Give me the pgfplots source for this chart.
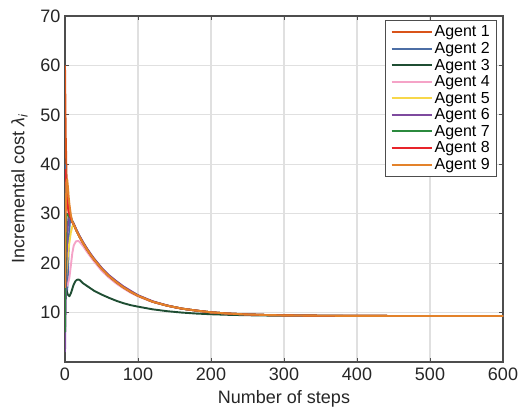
\documentclass[border=0pt]{standalone}
\usepackage{pgfplots}
\pgfplotsset{compat=1.18}
\usepackage{fontspec}
\setmainfont{Liberation Sans}
\definecolor{agentone}{HTML}{D95319}
\definecolor{agenttwo}{HTML}{4C6EA5}
\definecolor{agentthree}{HTML}{1F4E33}
\definecolor{agentfour}{HTML}{F5A3C7}
\definecolor{agentfive}{HTML}{F7D74A}
\definecolor{agentsix}{HTML}{7E4A9E}
\definecolor{agentseven}{HTML}{2B8A3E}
\definecolor{agenteight}{HTML}{E8242A}
\definecolor{agentnine}{HTML}{E3822A}
\definecolor{axgray}{HTML}{4D4D4D}
\definecolor{gridgray}{HTML}{E0E0E0}
\begin{document}
\begin{tikzpicture}
\path[use as bounding box] (-65pt,-48pt) rectangle (456pt,362pt);
\begin{axis}[
  at={(0pt,0pt)}, anchor=south west,
  scale only axis, width=438pt, height=346pt,
  xmin=0, xmax=600, ymin=0, ymax=70,
  xtick={0,100,...,600}, ytick={10,20,...,70},
  grid=major, major grid style={gridgray, line width=1.2pt},
  axis line style={axgray, line width=1.1pt},
  tick style={axgray, line width=1pt}, tick align=inside,
  major tick length=4pt,
  tick label style={font=\fontsize{18}{20}\selectfont, text=black!85},
  /pgf/number format/assume math mode=true,
  xticklabel style={yshift=-2pt}, yticklabel style={xshift=-1pt},
  xlabel={Number of steps},
  ylabel={Incremental cost {\itshape λ}\textsubscript{\itshape i}},
  label style={font=\fontsize{18}{20}\selectfont, text=black!85},
  xlabel style={yshift=-3pt},
  ylabel style={yshift=6pt},
  legend style={at={(0.987,0.988)}, anchor=north east, draw=axgray, line width=1.1pt,
    font=\fontsize{16}{16.5}\selectfont, row sep=0pt, inner xsep=5pt, inner ysep=3pt,
    cells={anchor=west}},
  legend image code/.code={\draw[#1, line width=2pt] (0pt,0pt) -- (40pt,0pt);},
  every axis plot/.append style={line width=1.9pt, line join=round},
]
\addplot[agentone] coordinates {(0,60)(1,46)(2,38.5)(3,34)(4,31.5)(5,30.2)(6,29.7)(8,29.1)(10,28.3)(12,27.8)(15,26.8)(20,25.3)(25,24.0)(30,22.8)(35,21.7)(40,20.7)(50,18.9)(60,17.4)(70,16.2)(80,15.1)(90,14.2)(100,13.4)(110,12.8)(120,12.2)(130,11.8)(140,11.4)(150,11.1)(160,10.8)(180,10.4)(200,10.05)(225,9.79)(250,9.62)(275,9.51)(300,9.44)(350,9.36)(400,9.33)(500,9.3)(600,9.3)};
\addlegendentry{Agent 1}
\addplot[agenttwo] coordinates {(0,40)(1,27)(2,17)(3,14.5)(4,18)(5,23)(6,27)(7,28.8)(8,29.2)(10,28.5)(12,27.9)(15,26.9)(20,25.4)(25,24.1)(30,22.9)(35,21.8)(40,20.8)(50,19.0)(60,17.5)(70,16.3)(80,15.2)(90,14.3)(100,13.5)(110,12.8)(120,12.2)(130,11.8)(140,11.4)(150,11.1)(160,10.8)(180,10.4)(200,10.05)(225,9.79)(250,9.62)(275,9.51)(300,9.44)(350,9.36)(400,9.33)(500,9.3)(600,9.3)};
\addlegendentry{Agent 2}
\addplot[agentthree] coordinates {(0,15)(2,14.5)(4,13.6)(6,13.3)(8,13.9)(10,14.8)(12,15.7)(14,16.3)(16,16.6)(18,16.7)(20,16.6)(25,15.9)(30,15.4)(40,14.4)(50,13.65)(60,13.0)(70,12.4)(80,11.9)(90,11.5)(100,11.2)(120,10.66)(140,10.28)(160,10.0)(180,9.8)(200,9.66)(225,9.54)(250,9.46)(275,9.40)(300,9.37)(350,9.33)(400,9.31)(600,9.3)};
\addlegendentry{Agent 3}
\addplot[agentfour] coordinates {(0,15)(2,15.3)(4,15.8)(6,17)(8,19.5)(10,22)(12,23.6)(15,24.4)(18,24.5)(20,24.3)(25,23.4)(30,22.3)(35,21.3)(40,20.3)(50,18.5)(60,17.1)(70,15.9)(80,14.9)(90,14.0)(100,13.3)(110,12.7)(120,12.15)(130,11.75)(140,11.37)(150,11.07)(160,10.8)(180,10.4)(200,10.05)(225,9.79)(250,9.62)(275,9.51)(300,9.44)(350,9.36)(400,9.33)(500,9.3)(600,9.3)};
\addlegendentry{Agent 4}
\addplot[agentfive] coordinates {(0,15)(1,16.5)(2,18)(4,21.5)(6,24.2)(8,26.2)(10,27.4)(12,27.8)(15,26.8)(20,25.3)(25,24.0)(30,22.8)(35,21.7)(40,20.7)(50,18.9)(60,17.4)(70,16.2)(80,15.1)(90,14.2)(100,13.4)(110,12.8)(120,12.2)(130,11.8)(140,11.4)(150,11.1)(160,10.8)(180,10.4)(200,10.05)(225,9.79)(250,9.62)(275,9.51)(300,9.44)(350,9.36)(400,9.33)(500,9.3)(600,9.3)};
\addlegendentry{Agent 5}
\addplot[agentsix] coordinates {(0,2)(1,12)(2,20)(3,25)(4,28)(5,29.3)(6,29.7)(8,29.3)(10,28.5)(12,28.0)(15,27.0)(20,25.5)(25,24.2)(30,23.0)(35,21.9)(40,20.9)(50,19.1)(60,17.6)(70,16.4)(80,15.3)(90,14.4)(100,13.5)(110,12.9)(120,12.3)(130,11.85)(140,11.45)(150,11.1)(160,10.8)(180,10.4)(200,10.05)(225,9.79)(250,9.62)(275,9.51)(300,9.44)(350,9.36)(400,9.33)(500,9.3)(600,9.3)};
\addlegendentry{Agent 6}
\addplot[agentseven] coordinates {(0,6)(1,22)(2,29.5)(3,29.8)(4,29.8)(5,29.6)(6,29.4)(8,29.0)(10,28.4)(12,27.8)(15,26.8)(20,25.3)(25,24.0)(30,22.8)(35,21.7)(40,20.7)(50,18.9)(60,17.4)(70,16.2)(80,15.1)(90,14.2)(100,13.4)(110,12.8)(120,12.2)(130,11.8)(140,11.4)(150,11.1)(160,10.8)(180,10.4)(200,10.05)(225,9.79)(250,9.62)(275,9.51)(300,9.44)(350,9.36)(400,9.33)(500,9.3)(600,9.3)};
\addlegendentry{Agent 7}
\addplot[agenteight] coordinates {(0,39)(1,37)(2,35)(3,33)(4,31.5)(5,30.5)(6,29.8)(8,29.1)(10,28.3)(12,27.8)(15,26.8)(20,25.3)(25,24.0)(30,22.8)(35,21.7)(40,20.7)(50,18.9)(60,17.4)(70,16.2)(80,15.1)(90,14.2)(100,13.4)(110,12.8)(120,12.2)(130,11.8)(140,11.4)(150,11.1)(160,10.8)(180,10.4)(200,10.05)(225,9.79)(250,9.62)(275,9.51)(300,9.44)(350,9.36)(400,9.33)(500,9.3)(600,9.3)};
\addlegendentry{Agent 8}
\addplot[agentnine] coordinates {(0,15)(1,30)(2,36.5)(3,37)(4,35.5)(5,33.5)(6,32)(8,29.8)(10,28.4)(12,27.8)(15,26.8)(20,25.3)(25,24.0)(30,22.8)(35,21.7)(40,20.7)(50,18.9)(60,17.4)(70,16.2)(80,15.1)(90,14.2)(100,13.4)(110,12.8)(120,12.2)(130,11.8)(140,11.4)(150,11.1)(160,10.8)(180,10.4)(200,10.05)(225,9.79)(250,9.62)(275,9.51)(300,9.44)(350,9.36)(400,9.33)(500,9.3)(600,9.3)};
\addlegendentry{Agent 9}
\end{axis}
\end{tikzpicture}
\end{document}
